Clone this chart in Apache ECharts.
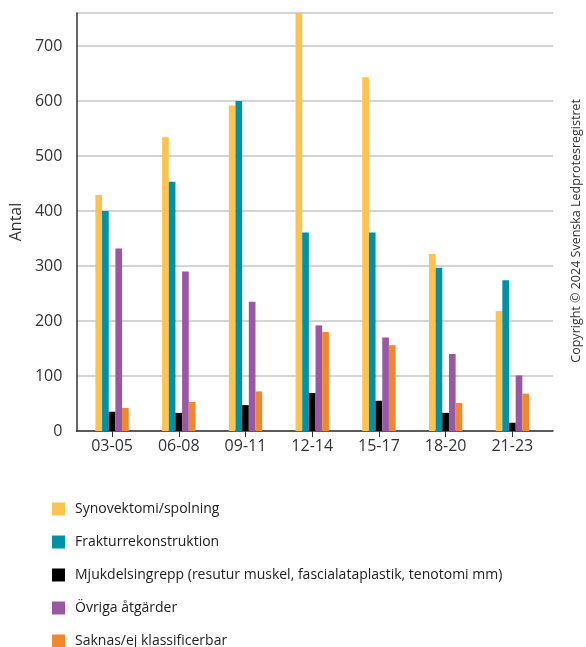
<!DOCTYPE html>
<html>
<head>
<meta charset="utf-8">
<script src="https://cdn.jsdelivr.net/npm/echarts@6/dist/echarts.min.js"></script>
<style>
  html, body { margin: 0; padding: 0; background: #fff; }
  #chart { width: 586px; height: 647px; }
</style>
</head>
<body>
<div id="chart"></div>
<script>
// Periods (years) on the x axis
const periods = ['03-05', '06-08', '09-11', '12-14', '15-17', '18-20', '21-23'];

// Number of procedures per period, one array per procedure type
const synovektomi   = [429, 534, 592, 760, 643, 322, 218];
const fraktur       = [400, 453, 600, 361, 361, 297, 274];
const mjukdel       = [35, 33, 47, 69, 55, 33, 15];
const ovriga        = [332, 290, 235, 192, 170, 140, 101];
const saknas        = [42, 53, 72, 180, 156, 51, 68];

const seriesNames = [
  'Synovektomi/spolning',
  'Frakturrekonstruktion',
  'Mjukdelsingrepp (resutur muskel, fascialataplastik, tenotomi mm)',
  'Övriga åtgärder',
  'Saknas/ej klassificerbar'
];
const seriesData = [synovektomi, fraktur, mjukdel, ovriga, saknas];
const colors = ['#FEC34E', '#0091A7', '#000000', '#9A58A4', '#F0892E'];

const yTicks = [0, 100, 200, 300, 400, 500, 600, 700];
const yMax = 760;

const FONT = '"Open Sans", "Noto Sans", sans-serif';
const chart = echarts.init(document.getElementById('chart'), null, { renderer: 'canvas' });

const option = {
  animation: false,
  textStyle: { fontFamily: FONT },
  grid: [
    // frame grid: axis lines and gridlines
    { left: 72, right: 33, top: 13, bottom: 216, containLabel: false },
    // bar grid: slightly inset band area
    { left: 78.7, right: 40.3, top: 13, bottom: 216, containLabel: false }
  ],
  legend: {
    orient: 'vertical',
    left: 47,
    top: 497,
    height: 160,
    itemWidth: 13,
    itemHeight: 13,
    itemGap: 19,
    icon: 'rect',
    textStyle: { fontSize: 14, color: '#222', fontFamily: FONT, padding: [0, 0, 0, 5] },
    data: seriesNames
  },
  xAxis: [
    {
      gridIndex: 0, type: 'value', min: 0, max: 1,
      axisLine: { show: true, onZero: false, lineStyle: { color: '#333', width: 1.5 } },
      axisTick: { show: false }, axisLabel: { show: false }, splitLine: { show: false }
    },
    {
      gridIndex: 1, type: 'category', data: periods,
      axisLine: { show: false },
      axisTick: { show: true, alignWithLabel: true, length: 6, lineStyle: { color: '#333' } },
      axisLabel: { fontSize: 16, color: '#333', margin: 7, fontFamily: FONT }
    }
  ],
  yAxis: [
    {
      gridIndex: 0, type: 'value', min: 0, max: yMax, interval: 100,
      name: 'Antal', nameLocation: 'middle', nameGap: 50,
      nameTextStyle: { fontSize: 16, color: '#333', fontFamily: FONT },
      axisLine: { show: true, lineStyle: { color: '#333', width: 1.5 } },
      axisTick: { show: false },
      axisLabel: {
        fontSize: 16, color: '#333', margin: 14, fontFamily: FONT,
        formatter: v => (yTicks.indexOf(v) >= 0 ? String(v) : '')
      },
      splitLine: { show: true, lineStyle: { color: '#c6c6c6', width: 1.5 } }
    },
    {
      gridIndex: 1, type: 'value', min: 0, max: yMax, interval: 100,
      axisLine: { show: false }, axisTick: { show: false },
      axisLabel: { show: false }, splitLine: { show: false }
    }
  ],
  graphic: [
    {
      type: 'text',
      left: 570,
      top: 99,
      rotation: Math.PI / 2,
      style: {
        text: 'Copyright © 2024 Svenska Ledprotesregistret',
        fill: '#333',
        font: '12.5px ' + FONT
      }
    }
  ],
  series: seriesNames.map((name, i) => ({
    name,
    type: 'bar',
    xAxisIndex: 1,
    yAxisIndex: 1,
    data: seriesData[i],
    barWidth: 6.67,
    barGap: '0%',
    itemStyle: { color: colors[i] }
  }))
};

chart.setOption(option);
</script>
</body>
</html>
